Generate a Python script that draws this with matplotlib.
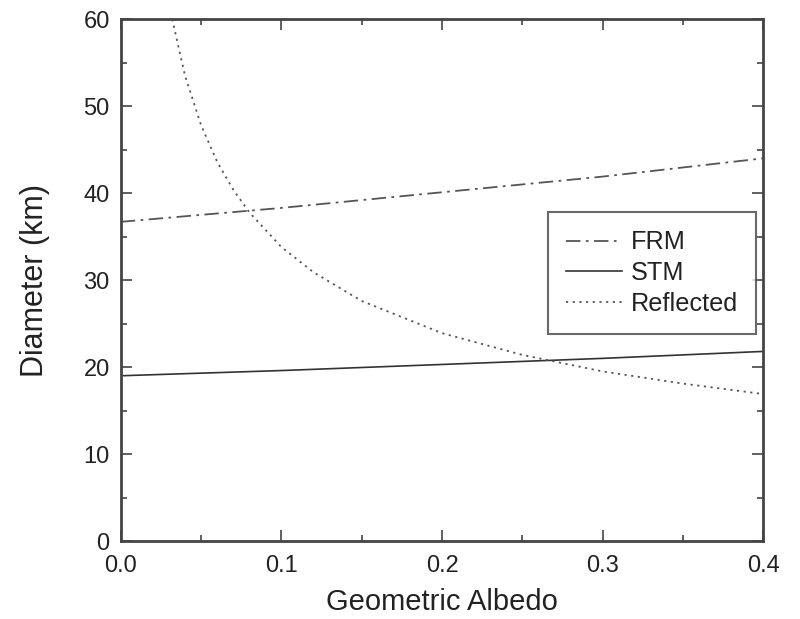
import numpy as np
import matplotlib
matplotlib.use("Agg")
import matplotlib.pyplot as plt
from matplotlib.ticker import MultipleLocator

plt.rcParams['font.family'] = ['Liberation Sans', 'DejaVu Sans']

# Diameter vs geometric albedo for the three models
albedo_thermal = [0.0, 0.1, 0.2, 0.3, 0.4]
frm_diameter = [36.7, 38.3, 40.1, 41.9, 44.0]
stm_diameter = [19.0, 19.6, 20.3, 21.0, 21.8]

albedo_reflected = [0.032, 0.04, 0.05, 0.06, 0.07, 0.08, 0.10, 0.12,
                    0.15, 0.20, 0.25, 0.30, 0.35, 0.40]
reflected_diameter = [60.0, 53.5, 47.8, 43.6, 40.4, 37.8, 33.8, 30.9,
                      27.6, 23.9, 21.4, 19.5, 18.1, 16.9]

fig = plt.figure(figsize=(8.0, 6.19), dpi=100)
ax = fig.add_axes([0.151, 0.126, 0.803, 0.843])

ax.plot(albedo_thermal, frm_diameter, color='#555555', lw=1.3,
        linestyle=(0, (8, 3, 1.5, 3)), label='FRM')
ax.plot(albedo_thermal, stm_diameter, color='#333333', lw=1.2, label='STM')
ax.plot(albedo_reflected, reflected_diameter, color='#555555', lw=1.3,
        linestyle=(0, (1.2, 2.5)), label='Reflected')

ax.set_xlim(0.0, 0.4)
ax.set_ylim(0, 60)
ax.xaxis.set_major_locator(MultipleLocator(0.1))
ax.xaxis.set_minor_locator(MultipleLocator(0.05))
ax.yaxis.set_major_locator(MultipleLocator(10))
ax.yaxis.set_minor_locator(MultipleLocator(5))
ax.xaxis.set_major_formatter(matplotlib.ticker.FormatStrFormatter('%.1f'))
ax.tick_params(which='both', direction='in', top=True, right=True,
               labelsize=17, color='#444444', labelcolor='#222222', width=1.2)
ax.tick_params(which='major', length=8)
ax.tick_params(which='minor', length=4)
ax.tick_params(axis='x', pad=10)
ax.tick_params(axis='y', pad=8)
for s in ax.spines.values():
    s.set_linewidth(2)
    s.set_color('#444444')

ax.set_xlabel('Geometric Albedo', fontsize=21, labelpad=8, color='#222222')
ax.set_ylabel('Diameter (km)', fontsize=22, labelpad=24, color='#222222')

leg = ax.legend(loc='upper left', bbox_to_anchor=(0.665, 0.630), fontsize=18.2,
                fancybox=False, handlelength=2.2, handletextpad=0.35,
                labelspacing=0.27, borderpad=0.72, borderaxespad=0)
leg.get_frame().set_edgecolor('#444444')
leg.get_frame().set_linewidth(1.5)
for t in leg.get_texts():
    t.set_color('#222222')

fig.savefig('out.png', dpi=100)
